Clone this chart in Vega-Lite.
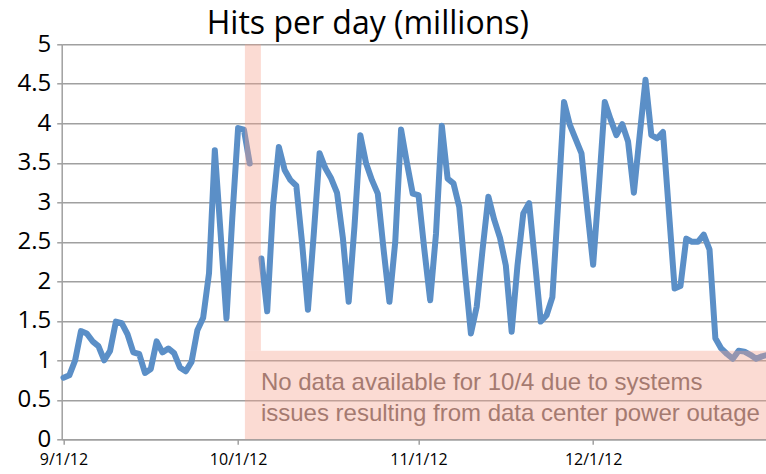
{
  "$schema": "https://vega.github.io/schema/vega-lite/v6.json",
  "width": 704.3,
  "height": 395,
  "autosize": {"type": "none"},
  "padding": {"left": 61.7, "top": 44.3, "right": 0, "bottom": 34.7},
  "background": "white",
  "title": {"text": "Hits per day (millions)", "font": "Open Sans", "fontSize": 32, "fontWeight": "normal", "color": "#000000", "anchor": "middle", "dx": -46, "offset": -9},
  "config": {
    "view": {"stroke": null},
    "axis": {"title": null, "domainColor": "#a0a0a0", "domainWidth": 1.5, "tickColor": "#a0a0a0", "tickWidth": 1.5, "tickSize": 5, "labelColor": "#000000", "labelFont": "Open Sans", "labelFlush": false, "labelOverlap": false},
    "axisX": {"grid": false, "labelFontSize": 16, "labelPadding": 7},
    "axisY": {"grid": true, "gridColor": "#a0a0a0", "gridWidth": 1.5, "labelFontSize": 24, "labelPadding": 6, "values": [0, 0.5, 1, 1.5, 2, 2.5, 3, 3.5, 4, 4.5, 5], "labelExpr": "format(datum.value, '~g')"}
  },
  "datasets": {
    "hits": [
      {"date": "2012-09-01", "hits": 0.78}, {"date": "2012-09-02", "hits": 0.81}, {"date": "2012-09-03", "hits": 1.0}, {"date": "2012-09-04", "hits": 1.37},
      {"date": "2012-09-05", "hits": 1.34}, {"date": "2012-09-06", "hits": 1.24}, {"date": "2012-09-07", "hits": 1.18}, {"date": "2012-09-08", "hits": 1.0},
      {"date": "2012-09-09", "hits": 1.12}, {"date": "2012-09-10", "hits": 1.49}, {"date": "2012-09-11", "hits": 1.47}, {"date": "2012-09-12", "hits": 1.33},
      {"date": "2012-09-13", "hits": 1.1}, {"date": "2012-09-14", "hits": 1.08}, {"date": "2012-09-15", "hits": 0.84}, {"date": "2012-09-16", "hits": 0.89},
      {"date": "2012-09-17", "hits": 1.24}, {"date": "2012-09-18", "hits": 1.1}, {"date": "2012-09-19", "hits": 1.15}, {"date": "2012-09-20", "hits": 1.09},
      {"date": "2012-09-21", "hits": 0.91}, {"date": "2012-09-22", "hits": 0.86}, {"date": "2012-09-23", "hits": 0.98}, {"date": "2012-09-24", "hits": 1.38},
      {"date": "2012-09-25", "hits": 1.54}, {"date": "2012-09-26", "hits": 2.1}, {"date": "2012-09-27", "hits": 3.66}, {"date": "2012-09-28", "hits": 2.6},
      {"date": "2012-09-29", "hits": 1.53}, {"date": "2012-09-30", "hits": 2.8},
      {"date": "2012-10-01", "hits": 3.94}, {"date": "2012-10-02", "hits": 3.92}, {"date": "2012-10-03", "hits": 3.49}, {"date": "2012-10-04", "hits": null},
      {"date": "2012-10-05", "hits": 2.29}, {"date": "2012-10-06", "hits": 1.62}, {"date": "2012-10-07", "hits": 2.95}, {"date": "2012-10-08", "hits": 3.7},
      {"date": "2012-10-09", "hits": 3.41}, {"date": "2012-10-10", "hits": 3.28}, {"date": "2012-10-11", "hits": 3.21}, {"date": "2012-10-12", "hits": 2.48},
      {"date": "2012-10-13", "hits": 1.64}, {"date": "2012-10-14", "hits": 2.6}, {"date": "2012-10-15", "hits": 3.62}, {"date": "2012-10-16", "hits": 3.43},
      {"date": "2012-10-17", "hits": 3.3}, {"date": "2012-10-18", "hits": 3.12}, {"date": "2012-10-19", "hits": 2.55}, {"date": "2012-10-20", "hits": 1.74},
      {"date": "2012-10-21", "hits": 2.7}, {"date": "2012-10-22", "hits": 3.85}, {"date": "2012-10-23", "hits": 3.49}, {"date": "2012-10-24", "hits": 3.28},
      {"date": "2012-10-25", "hits": 3.11}, {"date": "2012-10-26", "hits": 2.4}, {"date": "2012-10-27", "hits": 1.74}, {"date": "2012-10-28", "hits": 2.5},
      {"date": "2012-10-29", "hits": 3.92}, {"date": "2012-10-30", "hits": 3.5}, {"date": "2012-10-31", "hits": 3.11},
      {"date": "2012-11-01", "hits": 3.09}, {"date": "2012-11-02", "hits": 2.4}, {"date": "2012-11-03", "hits": 1.76}, {"date": "2012-11-04", "hits": 2.6},
      {"date": "2012-11-05", "hits": 3.97}, {"date": "2012-11-06", "hits": 3.3}, {"date": "2012-11-07", "hits": 3.24}, {"date": "2012-11-08", "hits": 2.94},
      {"date": "2012-11-09", "hits": 2.1}, {"date": "2012-11-10", "hits": 1.34}, {"date": "2012-11-11", "hits": 1.68}, {"date": "2012-11-12", "hits": 2.4},
      {"date": "2012-11-13", "hits": 3.07}, {"date": "2012-11-14", "hits": 2.78}, {"date": "2012-11-15", "hits": 2.55}, {"date": "2012-11-16", "hits": 2.2},
      {"date": "2012-11-17", "hits": 1.36}, {"date": "2012-11-18", "hits": 2.2}, {"date": "2012-11-19", "hits": 2.86}, {"date": "2012-11-20", "hits": 2.99},
      {"date": "2012-11-21", "hits": 2.25}, {"date": "2012-11-22", "hits": 1.49}, {"date": "2012-11-23", "hits": 1.57}, {"date": "2012-11-24", "hits": 1.8},
      {"date": "2012-11-25", "hits": 3.0}, {"date": "2012-11-26", "hits": 4.27}, {"date": "2012-11-27", "hits": 3.98}, {"date": "2012-11-28", "hits": 3.8},
      {"date": "2012-11-29", "hits": 3.62}, {"date": "2012-11-30", "hits": 2.9},
      {"date": "2012-12-01", "hits": 2.21}, {"date": "2012-12-02", "hits": 3.2}, {"date": "2012-12-03", "hits": 4.27}, {"date": "2012-12-04", "hits": 4.05},
      {"date": "2012-12-05", "hits": 3.85}, {"date": "2012-12-06", "hits": 3.99}, {"date": "2012-12-07", "hits": 3.77}, {"date": "2012-12-08", "hits": 3.12},
      {"date": "2012-12-09", "hits": 3.85}, {"date": "2012-12-10", "hits": 4.55}, {"date": "2012-12-11", "hits": 3.85}, {"date": "2012-12-12", "hits": 3.81},
      {"date": "2012-12-13", "hits": 3.89}, {"date": "2012-12-14", "hits": 2.9}, {"date": "2012-12-15", "hits": 1.91}, {"date": "2012-12-16", "hits": 1.94},
      {"date": "2012-12-17", "hits": 2.54}, {"date": "2012-12-18", "hits": 2.5}, {"date": "2012-12-19", "hits": 2.5}, {"date": "2012-12-20", "hits": 2.59},
      {"date": "2012-12-21", "hits": 2.4}, {"date": "2012-12-22", "hits": 1.28}, {"date": "2012-12-23", "hits": 1.15}, {"date": "2012-12-24", "hits": 1.08},
      {"date": "2012-12-25", "hits": 1.02}, {"date": "2012-12-26", "hits": 1.12}, {"date": "2012-12-27", "hits": 1.11}, {"date": "2012-12-28", "hits": 1.07},
      {"date": "2012-12-29", "hits": 1.02}, {"date": "2012-12-30", "hits": 1.05}, {"date": "2012-12-31", "hits": 1.07}
    ],
    "shade": [
      {"start": "2012-10-02T04:00:00Z", "end": "2012-10-04T22:00:00Z", "low": 1.12, "high": 5},
      {"start": "2012-10-02T04:00:00Z", "end": "2012-12-31T12:00:00Z", "low": 0, "high": 1.12}
    ],
    "note": [
      {"date": "2012-10-04T22:00:00Z", "pos": 0.624, "label": "No data available for 10/4 due to systems"},
      {"date": "2012-10-04T22:00:00Z", "pos": 0.235, "label": "issues resulting from data center power outage"}
    ]
  },
  "layer": [
    {
      "data": {"name": "hits"},
      "mark": {"type": "line", "color": "#5b8fc7", "strokeWidth": 6, "strokeJoin": "round", "strokeCap": "round", "invalid": "break-paths-filter-domains"},
      "encoding": {
        "x": {
          "field": "date", "type": "temporal",
          "scale": {"type": "utc", "domain": [{"year": 2012, "month": 8, "date": 31, "hours": 16, "minutes": 36, "utc": true}, {"year": 2012, "month": 12, "date": 30, "hours": 16, "minutes": 48, "utc": true}]},
          "axis": {
            "values": [{"year": 2012, "month": 9, "date": 1, "utc": true}, {"year": 2012, "month": 10, "date": 1, "utc": true}, {"year": 2012, "month": 11, "date": 1, "utc": true}, {"year": 2012, "month": 12, "date": 1, "utc": true}],
            "labelExpr": "utcFormat(datum.value, '%-m/%-d/%y')"
          }
        },
        "y": {
          "field": "hits", "type": "quantitative",
          "scale": {"domain": [0, 5], "nice": false, "zero": true}
        }
      }
    },
    {
      "data": {"name": "shade"},
      "mark": {"type": "rect", "color": "#f4a08c", "opacity": 0.38},
      "encoding": {
        "x": {"field": "start", "type": "temporal"},
        "x2": {"field": "end"},
        "y": {"field": "low", "type": "quantitative"},
        "y2": {"field": "high"}
      }
    },
    {
      "data": {"name": "note"},
      "mark": {"type": "text", "align": "left", "baseline": "alphabetic", "font": "Liberation Sans", "fontSize": 24, "color": "#a57a70"},
      "encoding": {
        "x": {"field": "date", "type": "temporal"},
        "y": {"field": "pos", "type": "quantitative"},
        "text": {"field": "label"}
      }
    }
  ]
}
